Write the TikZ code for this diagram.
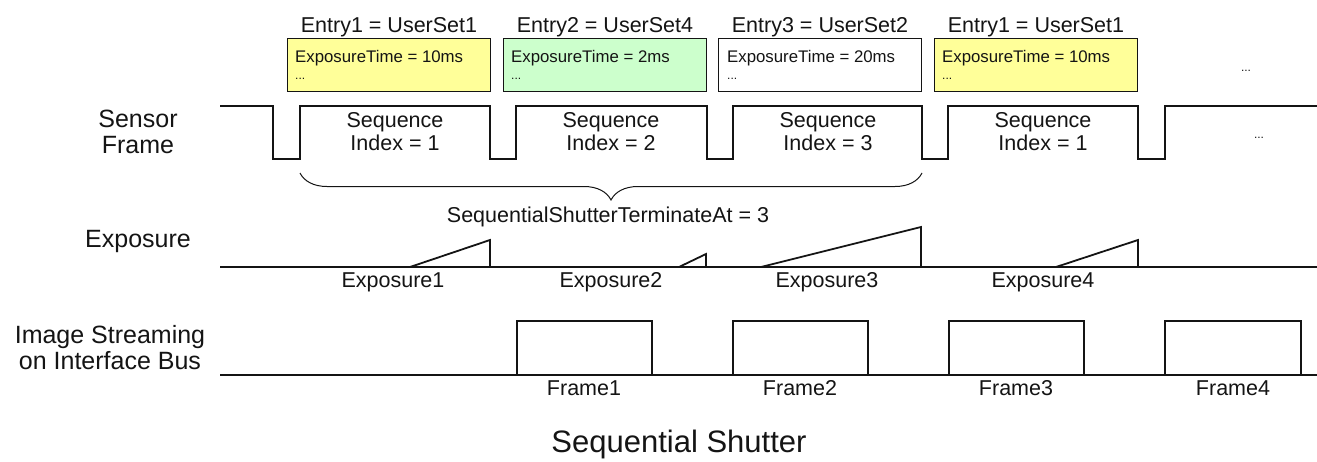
\documentclass[tikz,border=0pt]{standalone}
\usepackage{fontspec}
\setmainfont{Liberation Sans}
\usetikzlibrary{decorations.pathreplacing}
\definecolor{setyellow}{HTML}{FFFF99}
\definecolor{setgreen}{HTML}{CCFFCC}
\definecolor{sqink}{HTML}{141414}

\begin{document}
\begin{tikzpicture}[x=1pt, y=-1pt, color=sqink,
  sig/.style={line width=1.8pt},
  entrybox/.style={draw, line width=1.6pt, minimum width=203pt, minimum height=53pt, inner sep=0pt},
  lbl/.style={font=\fontsize{21.5}{24}\selectfont, anchor=base, inner sep=0pt},
  side/.style={font=\fontsize{25}{27}\selectfont, anchor=base, inner sep=0pt},
  small/.style={font=\fontsize{16.8}{19}\selectfont, anchor=base west, inner sep=0pt},
  dots/.style={font=\fontsize{12}{14}\selectfont, inner sep=0pt}]
  \useasboundingbox (0,0) rectangle (1317,461);
  % user set entries
  \node[lbl] (entry1) at (389,32) {Entry1 = UserSet1};
  \node[lbl] (entry2) at (605,32) {Entry2 = UserSet4};
  \node[lbl] (entry3) at (820,32) {Entry3 = UserSet2};
  \node[lbl] (entry4) at (1036,32) {Entry1 = UserSet1};
  \node[entrybox, fill=setyellow] (box1) at (389,65) {};
  \node[entrybox, fill=setgreen] (box2) at (605,65) {};
  \node[entrybox, fill=white] (box3) at (820,65) {};
  \node[entrybox, fill=setyellow] (box4) at (1036,65) {};
  \node[small] (time1) at (295,62) {ExposureTime = 10ms};
  \node[small] (time2) at (511,62) {ExposureTime = 2ms};
  \node[small] (time3) at (727,62) {ExposureTime = 20ms};
  \node[small] (time4) at (942,62) {ExposureTime = 10ms};
  \node[dots, anchor=base west] (more1) at (295,79) {...};
  \node[dots, anchor=base west] (more2) at (511,79) {...};
  \node[dots, anchor=base west] (more3) at (727,79) {...};
  \node[dots, anchor=base west] (more4) at (942,79) {...};
  \node[dots] (moreset) at (1246,71) {...};
  % sensor frame
  \node[side] (sensor) at (138,127) {Sensor};
  \node[side] (sensorb) at (138,153) {Frame};
  \draw[sig] (220,106) -- (273,106) -- (273,159) -- (300,159) -- (300,106)
    -- (490,106) -- (490,159) -- (516,159) -- (516,106)
    -- (707,106) -- (707,159) -- (733,159) -- (733,106)
    -- (922,106) -- (922,159) -- (948,159) -- (948,106)
    -- (1138,106) -- (1138,159) -- (1165,159) -- (1165,106) -- (1317,106);
  \node[lbl] (seq1) at (395,127) {Sequence};
  \node[lbl] (idx1) at (395,150) {Index = 1};
  \node[lbl] (seq2) at (611,127) {Sequence};
  \node[lbl] (idx2) at (611,150) {Index = 2};
  \node[lbl] (seq3) at (828,127) {Sequence};
  \node[lbl] (idx3) at (828,150) {Index = 3};
  \node[lbl] (seq4) at (1043,127) {Sequence};
  \node[lbl] (idx4) at (1043,150) {Index = 1};
  \node[dots] (moreframe) at (1259,138) {...};
  \coordinate (braceL) at (300,173);
  \coordinate (braceR) at (922,173);
  \draw[decorate, decoration={brace, mirror, amplitude=27pt}, line width=1pt] (braceL) -- (braceR);
  \node[lbl] (terminate) at (608,222) {SequentialShutterTerminateAt = 3};
  % exposure
  \node[side] (exposure) at (138,247) {Exposure};
  \draw[sig] (220,267) -- (1317,267);
  \draw[sig] (410,267) -- (490,240) -- (490,267);
  \draw[sig] (679,267) -- (706,254) -- (706,267);
  \draw[sig] (761,267) -- (921,227) -- (921,267);
  \draw[sig] (1056,267) -- (1138,240) -- (1138,267);
  \node[lbl] (exp1) at (393,287) {Exposure1};
  \node[lbl] (exp2) at (611,287) {Exposure2};
  \node[lbl] (exp3) at (827,287) {Exposure3};
  \node[lbl] (exp4) at (1043,287) {Exposure4};
  % streaming
  \node[side] (stream) at (110,343) {Image Streaming};
  \node[side] (streamb) at (110,369) {on Interface Bus};
  \draw[sig] (220,375) -- (1317,375);
  \draw[sig] (517,375) -- (517,321) -- (652,321) -- (652,375);
  \draw[sig] (733,375) -- (733,321) -- (868,321) -- (868,375);
  \draw[sig] (949,375) -- (949,321) -- (1084,321) -- (1084,375);
  \draw[sig] (1165,375) -- (1165,321) -- (1301,321) -- (1301,375);
  \node[lbl] (frame1) at (584,395) {Frame1};
  \node[lbl] (frame2) at (800,395) {Frame2};
  \node[lbl] (frame3) at (1016,395) {Frame3};
  \node[lbl] (frame4) at (1233,395) {Frame4};
  \node[font=\fontsize{31}{35}\selectfont, anchor=base, inner sep=0pt] (title) at (679,452) {Sequential Shutter};
\end{tikzpicture}
\end{document}
